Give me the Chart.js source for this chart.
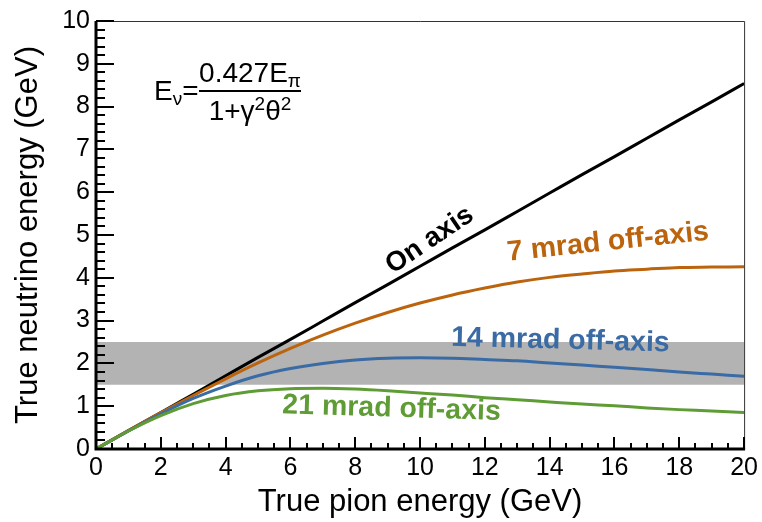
<!DOCTYPE html>
<html>
<head>
<meta charset="utf-8">
<script src="https://cdn.jsdelivr.net/npm/chart.js@4.4.1/dist/chart.umd.min.js"></script>
<style>
  html, body { margin: 0; padding: 0; background: #fff; }
  #wrap { width: 762px; height: 522px; }
</style>
</head>
<body>
<div id="wrap"><canvas id="energyChart"></canvas></div>
<script>
// pion energy (GeV) and neutrino energy (GeV) for each angle
const pionEnergy = [0, 1, 2, 3, 4, 5, 6, 7, 8, 9, 10, 11, 12, 13, 14, 15, 16, 17, 18, 19, 20];
const onAxis    = [0, 0.43, 0.85, 1.28, 1.71, 2.14, 2.56, 2.99, 3.42, 3.84, 4.27, 4.70, 5.12, 5.55, 5.98, 6.41, 6.83, 7.26, 7.69, 8.11, 8.54];
const offAxis7  = [0, 0.43, 0.85, 1.25, 1.64, 2.01, 2.35, 2.66, 2.94, 3.19, 3.41, 3.60, 3.76, 3.90, 4.01, 4.09, 4.16, 4.20, 4.24, 4.25, 4.26];
const offAxis14 = [0, 0.42, 0.82, 1.18, 1.47, 1.71, 1.88, 2.00, 2.08, 2.12, 2.13, 2.12, 2.09, 2.06, 2.01, 1.96, 1.91, 1.86, 1.80, 1.75, 1.70];
const offAxis21 = [0, 0.42, 0.78, 1.06, 1.25, 1.36, 1.41, 1.42, 1.40, 1.36, 1.31, 1.26, 1.20, 1.15, 1.10, 1.05, 1.01, 0.96, 0.92, 0.89, 0.85];

// shaded energy window
const bandRange = [0, 20];
const bandLow = 1.5;
const bandHigh = 2.5;

const xTicks = [0, 2, 4, 6, 8, 10, 12, 14, 16, 18, 20];
const yTicks = [0, 1, 2, 3, 4, 5, 6, 7, 8, 9, 10];

const FONT = '"Liberation Sans", Arial, Helvetica, sans-serif';
const colOn = "#000000";
const col7 = "#bb640d";
const col14 = "#3a6ba4";
const col21 = "#5f9c35";

function points(ys) {
    return pionEnergy.map((e, i) => ({ x: e, y: ys[i] }));
}

// curve labels, placed in data coordinates
const curveLabels = [
    { text: "On axis",          x: 10.3,  y: 4.88, angle: -34, color: colOn, size: 27.5 },
    { text: "7 mrad off-axis",  x: 15.8,  y: 4.83, angle: -6,  color: col7,  size: 28.5 },
    { text: "14 mrad off-axis", x: 14.33, y: 2.53, angle: 1.5, color: col14, size: 28.5 },
    { text: "21 mrad off-axis", x: 9.12,  y: 0.94, angle: 1.8, color: col21, size: 28.5 },
];

const framePlugin = {
    id: "frame",
    afterDraw(chart) {
        const ctx = chart.ctx;
        const xs = chart.scales.x, ys = chart.scales.y;
        const a = chart.chartArea;
        ctx.save();

        // thin top / right border
        ctx.strokeStyle = "#333";
        ctx.lineWidth = 1;
        ctx.beginPath();
        ctx.moveTo(a.left, a.top + 0.5);
        ctx.lineTo(a.right + 0.5, a.top + 0.5);
        ctx.lineTo(a.right + 0.5, a.bottom);
        ctx.stroke();

        // ticks, pointing inward
        ctx.strokeStyle = "#000";
        ctx.lineWidth = 2;
        ctx.beginPath();
        for (let v = 0; v <= 20.001; v += 0.5) {
            const px = Math.round(xs.getPixelForValue(v));
            const len = (Math.abs(v / 2 - Math.round(v / 2)) < 1e-6) ? 12 : 6;
            ctx.moveTo(px, a.bottom);
            ctx.lineTo(px, a.bottom - len);
        }
        for (let k = 0; k <= 50; k++) {
            const v = k * 0.2;
            const py = Math.round(ys.getPixelForValue(v));
            const len = (k % 5 === 0) ? 18 : 9;
            ctx.moveTo(a.left, py);
            ctx.lineTo(a.left + len, py);
        }
        ctx.stroke();

        // thick left / bottom axes
        ctx.lineWidth = 3;
        ctx.beginPath();
        ctx.moveTo(a.left, a.top);
        ctx.lineTo(a.left, a.bottom);
        ctx.lineTo(a.right + 1, a.bottom);
        ctx.stroke();

        // axis titles
        ctx.fillStyle = "#000";
        ctx.font = "31px " + FONT;
        ctx.textAlign = "center";
        ctx.textBaseline = "alphabetic";
        ctx.fillText("True pion energy (GeV)", (a.left + a.right) / 2, 511);
        ctx.save();
        ctx.translate(37, (a.top + a.bottom) / 2);
        ctx.rotate(-Math.PI / 2);
        ctx.fillText("True neutrino energy (GeV)", 0, 0);
        ctx.restore();

        // curve labels
        ctx.textBaseline = "middle";
        curveLabels.forEach((l) => {
            ctx.save();
            ctx.translate(xs.getPixelForValue(l.x), ys.getPixelForValue(l.y));
            ctx.rotate(l.angle * Math.PI / 180);
            ctx.fillStyle = l.color;
            ctx.font = "bold " + l.size + "px " + FONT;
            ctx.fillText(l.text, 0, 0);
            ctx.restore();
        });

        // formula
        ctx.fillStyle = "#000";
        ctx.textAlign = "left";
        ctx.textBaseline = "alphabetic";
        const big = "28px " + FONT, small = "19px " + FONT;
        ctx.font = big;
        ctx.fillText("E", 154, 100);
        let x = 154 + ctx.measureText("E").width;
        ctx.font = small;
        ctx.fillText("\u03bd", x, 105);
        x += ctx.measureText("\u03bd").width;
        ctx.font = big;
        ctx.fillText("=", x, 100);
        const barL = 199, barR = 301;
        ctx.fillRect(barL, 90, barR - barL, 2);
        // numerator
        ctx.font = big;
        const num = "0.427E";
        const wNum = ctx.measureText(num).width;
        ctx.font = small;
        const wPi = ctx.measureText("\u03c0").width;
        let nx = (barL + barR) / 2 - (wNum + wPi) / 2;
        ctx.font = big;
        ctx.fillText(num, nx, 82);
        ctx.font = small;
        ctx.fillText("\u03c0", nx + wNum, 87);
        // denominator
        const parts = [["1+\u03b3", big, 0], ["2", small, -10], ["\u03b8", big, 0], ["2", small, -10]];
        let wDen = 0;
        parts.forEach((p) => { ctx.font = p[1]; wDen += ctx.measureText(p[0]).width; });
        let dx = (barL + barR) / 2 - wDen / 2;
        parts.forEach((p) => {
            ctx.font = p[1];
            ctx.fillText(p[0], dx, 120 + p[2]);
            dx += ctx.measureText(p[0]).width;
        });
        ctx.restore();
    }
};

const ctx = document.getElementById("energyChart").getContext("2d");

const energyChart = new Chart(ctx, {
    type: "line",
    data: {
        datasets: [
            {
                label: "21 mrad",
                data: points(offAxis21),
                borderColor: col21,
                borderWidth: 3,
                order: 1,
            },
            {
                label: "14 mrad",
                data: points(offAxis14),
                borderColor: col14,
                borderWidth: 3,
                order: 2,
            },
            {
                label: "7 mrad",
                data: points(offAxis7),
                borderColor: col7,
                borderWidth: 3,
                order: 3,
            },
            {
                label: "On axis",
                data: points(onAxis),
                borderColor: colOn,
                borderWidth: 3,
                order: 4,
            },
            {
                label: "window",
                data: bandRange.map((e) => ({ x: e, y: bandHigh })),
                borderWidth: 0,
                borderColor: "rgba(0,0,0,0)",
                backgroundColor: "#b3b3b3",
                fill: { value: bandLow },
                order: 5,
            },
        ],
    },
    options: {
        responsive: true,
        maintainAspectRatio: false,
        animation: false,
        events: [],
        layout: { padding: { top: 14, right: 17, left: 0, bottom: 0 } },
        elements: {
            point: { radius: 0 },
            line: { cubicInterpolationMode: "monotone", fill: false },
        },
        plugins: {
            legend: { display: false },
            tooltip: { enabled: false },
        },
        scales: {
            x: {
                type: "linear",
                min: 0,
                max: 20,
                afterFit(scale) { scale.height = 73; },
                afterBuildTicks(scale) { scale.ticks = xTicks.map((v) => ({ value: v })); },
                grid: { display: false, drawTicks: false },
                border: { display: false },
                ticks: {
                    color: "#000",
                    padding: 4,
                    maxRotation: 0,
                    font: { family: FONT, size: 25 },
                },
            },
            y: {
                type: "linear",
                min: 0,
                max: 10,
                afterFit(scale) { scale.width = 96; },
                afterBuildTicks(scale) { scale.ticks = yTicks.map((v) => ({ value: v })); },
                grid: { display: false, drawTicks: false },
                border: { display: false },
                ticks: {
                    color: "#000",
                    padding: 6,
                    font: { family: FONT, size: 25 },
                },
            },
        },
    },
    plugins: [framePlugin],
});
</script>
</body>
</html>
